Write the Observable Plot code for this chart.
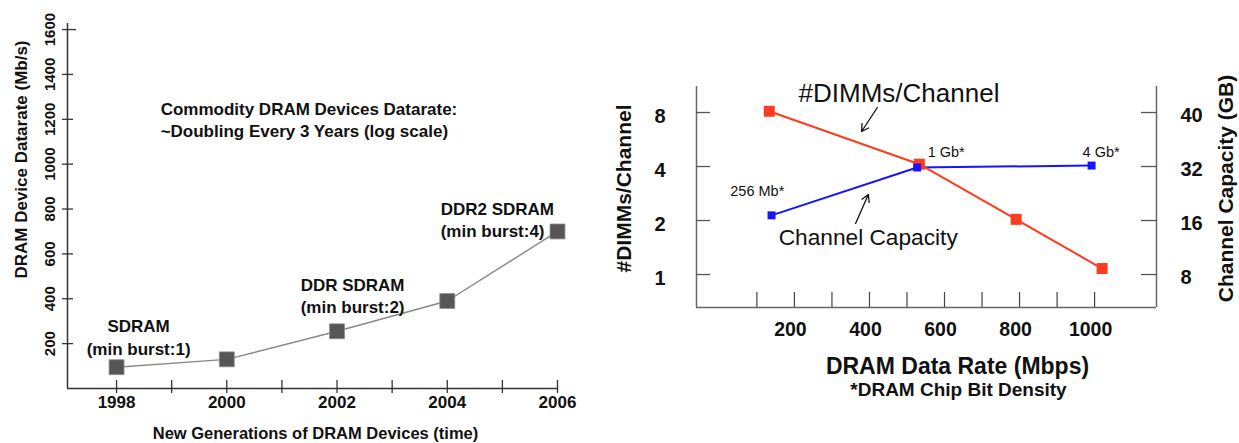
<!DOCTYPE html>
<html>
<head>
<meta charset="utf-8">
<script src="https://cdn.jsdelivr.net/npm/d3@7"></script>
<script src="https://cdn.jsdelivr.net/npm/@observablehq/plot@0.6"></script>
<style>
html, body { margin: 0; padding: 0; background: #fff; }
#wrap { position: relative; width: 1239px; height: 443px; overflow: hidden; background: #fff; }
#left { position: absolute; left: 0; top: 0; }
#right { position: absolute; left: 600px; top: 0; }
</style>
</head>
<body>
<div id="wrap"><div id="left"></div><div id="right"></div></div>
<script>
// ---------- Left chart data ----------
const years = [1998, 2000, 2002, 2004, 2006];
const datarate = [95, 130, 255, 390, 700];
const yearTicks = [1998, 2000, 2002, 2004, 2006];
const yearMinorTicks = [1999, 2001, 2003, 2005];
const datarateTicks = [200, 400, 600, 800, 1000, 1200, 1400, 1600];
const leftNotesStart = [
  {x: 1998.8, y: 1201, text: "Commodity DRAM Devices Datarate:\n~Doubling Every 3 Years (log scale)"},
  {x: 2001.34, y: 419, text: "DDR SDRAM\n(min burst:2)"},
  {x: 2003.88, y: 755, text: "DDR2 SDRAM\n(min burst:4)"}
];
const leftNotesMiddle = [
  {x: 1998.4, y: 232, text: "SDRAM\n(min burst:1)"}
];
const leftTitleX = "New Generations of DRAM Devices (time)";
const leftTitleY = "DRAM Device Datarate (Mb/s)";

// ---------- Right chart data ----------
const dimmRate = [133, 533, 791, 1020];
const dimmCount = [8.13, 4.12, 2.03, 1.08];
const capRate = [139, 527, 992];
const capGB = [17.1, 31.6, 32.4];
const rateTicks = [100, 200, 300, 400, 500, 600, 700, 800, 900, 1000];
const rateLabels = [200, 400, 600, 800, 1000];
const dimmTicks = [1, 2, 4, 8];
const capacityTicksGB = [8, 16, 32, 64];
const capacityTickLabels = ["8", "16", "32", "40"];
const chipNotes = [
  {x: 29, y: 2.91, text: "256 Mb*"},
  {x: 555, y: 4.79, text: "1 Gb*"},
  {x: 968, y: 4.79, text: "4 Gb*"}
];
const seriesNotes = [
  {x: 211, y: 10.2, text: "#DIMMs/Channel", size: 26},
  {x: 158, y: 1.61, text: "Channel Capacity", size: 22.7}
];
const arrows = [
  {x1: 421, y1: 8.53, x2: 379, y2: 6.27},
  {x1: 363, y1: 1.925, x2: 397, y2: 2.79}
];
const rightTitleX = "DRAM Data Rate (Mbps)";
const rightSubtitle = "*DRAM Chip Bit Density";
const rightTitleYL = "#DIMMs/Channel";
const rightTitleYR = "Channel Capacity (GB)";

const FONT = "'Liberation Sans', Arial, Helvetica, sans-serif";

// ---------- Left chart ----------
const leftData = years.map((year, i) => ({year, rate: datarate[i]}));
const xMinL = 1997.11, xMaxL = 2006.0;
const L = Plot.plot({
  width: 600, height: 443,
  marginLeft: 67, marginRight: 43, marginTop: 23, marginBottom: 55,
  style: {fontFamily: FONT, fontSize: "17px", fontWeight: "bold", color: "#111", background: "white", overflow: "visible"},
  x: {domain: [xMinL, xMaxL], axis: null, label: null},
  y: {domain: [0, 1627], axis: null, label: null},
  marks: [
    Plot.ruleX([xMinL], {stroke: "#333", strokeWidth: 1.5}),
    Plot.ruleY([0], {stroke: "#333", strokeWidth: 1.5}),
    Plot.axisY(datarateTicks.filter(d => d !== 1600), {anchor: "left", tickSize: 11, dx: 6, tickFormat: () => "", label: null, stroke: "#333", strokeWidth: 1.3}),
    Plot.axisY([1600], {anchor: "left", tickSize: 14, dx: 9, tickFormat: () => "", label: null, stroke: "#333", strokeWidth: 1.3}),
    Plot.axisY(datarateTicks, {anchor: "left", tickSize: 0, tickPadding: 17, rotate: -90, textAnchor: "middle", lineAnchor: "middle", fontSize: 15, fontWeight: "bold", tickFormat: d => String(d), label: null, fill: "#111"}),
    Plot.axisX([...yearTicks, ...yearMinorTicks], {anchor: "bottom", tickSize: 13, dy: -8, tickFormat: () => "", label: null, stroke: "#333", strokeWidth: 1.3}),
    Plot.axisX(yearTicks, {anchor: "bottom", tickSize: 0, tickPadding: 7, fontSize: 17, fontWeight: "bold", tickFormat: d => String(d), label: null, fill: "#111"}),
    Plot.text([leftTitleX], {frameAnchor: "bottom", textAnchor: "middle", dx: 3, dy: 45, lineAnchor: "middle", fontSize: 16.5, fontWeight: "bold", fill: "#111"}),
    Plot.text([leftTitleY], {frameAnchor: "left", textAnchor: "middle", rotate: -90, dx: -46, dy: -46.5, lineAnchor: "middle", fontSize: 17, fontWeight: "bold", fill: "#111"}),
    Plot.line(leftData, {x: "year", y: "rate", stroke: "#888", strokeWidth: 1.4}),
    Plot.dot(leftData, {x: "year", y: "rate", symbol: "square", r: 8.4, fill: "#565656", stroke: "#8a8a8a", strokeWidth: 0.8}),
    Plot.text(leftNotesStart, {x: "x", y: "y", text: "text", textAnchor: "start", lineAnchor: "middle", lineHeight: 1.3, fontSize: 17, fontWeight: "bold", fill: "#111"}),
    Plot.text(leftNotesMiddle, {x: "x", y: "y", text: "text", textAnchor: "middle", lineAnchor: "middle", lineHeight: 1.3, fontSize: 17, fontWeight: "bold", fill: "#111"})
  ]
});
document.getElementById("left").appendChild(L);

// ---------- Right chart ----------
const dimmData = dimmRate.map((rate, i) => ({rate, v: dimmCount[i]}));
const capData = capRate.map((rate, i) => ({rate, v: capGB[i] / 8}));
const capLabel = new Map(capacityTicksGB.map((g, i) => [g / 8, capacityTickLabels[i]]));
const xMinR = -61, xMaxR = 1165;
const yMinR = 0.655, yMaxR = 11.17;
const RED = "#ff3b1f", BLUE = "#1414ff";
const R = Plot.plot({
  width: 639, height: 443,
  marginLeft: 96, marginRight: 83, marginTop: 86, marginBottom: 136,
  style: {fontFamily: FONT, fontSize: "19px", color: "#111", background: "white", overflow: "visible"},
  x: {domain: [xMinR, xMaxR], axis: null, label: null},
  y: {type: "log", base: 2, domain: [yMinR, yMaxR], axis: null, label: null},
  marks: [
    Plot.ruleX([xMinR], {stroke: "#666", strokeWidth: 1.5}),
    Plot.ruleX([xMaxR], {stroke: "#666", strokeWidth: 1.5}),
    Plot.ruleY([yMinR], {stroke: "#666", strokeWidth: 1.5}),
    Plot.axisY(dimmTicks, {anchor: "left", tickSize: 14, dx: 14, tickFormat: () => "", label: null, stroke: "#555", strokeWidth: 1.3}),
    Plot.axisY(dimmTicks, {anchor: "left", tickSize: 0, tickPadding: 31, dy: 4, fontSize: 20, fontWeight: "bold", tickFormat: d => String(d), label: null, fill: "#111"}),
    Plot.axisY(dimmTicks, {anchor: "right", tickSize: 16, dx: -16, tickFormat: () => "", label: null, stroke: "#555", strokeWidth: 1.3}),
    Plot.axisY(capacityTicksGB.map(g => g / 8), {anchor: "right", tickSize: 0, tickPadding: 24, dy: 3, fontSize: 20, fontWeight: "bold", tickFormat: d => capLabel.get(d), label: null, fill: "#111"}),
    Plot.axisX(rateTicks, {anchor: "bottom", tickSize: 15, dy: -15, tickFormat: () => "", label: null, stroke: "#444", strokeWidth: 1.2}),
    Plot.axisX(rateLabels, {anchor: "bottom", tickSize: 0, tickPadding: 15, dx: -4, fontSize: 19.5, fontWeight: "bold", tickFormat: d => String(d), label: null, fill: "#111"}),
    Plot.text([rightTitleX], {frameAnchor: "bottom", textAnchor: "middle", dx: 31, dy: 59, lineAnchor: "middle", fontSize: 23, fontWeight: "bold", fill: "#111"}),
    Plot.text([rightSubtitle], {frameAnchor: "bottom", textAnchor: "middle", dx: 32, dy: 82, lineAnchor: "middle", fontSize: 19, fontWeight: "bold", fill: "#111"}),
    Plot.text([rightTitleYL], {frameAnchor: "left", textAnchor: "middle", rotate: -90, dx: -72, dy: -8.5, lineAnchor: "middle", fontSize: 21, fontWeight: "bold", fill: "#111"}),
    Plot.text([rightTitleYR], {frameAnchor: "right", textAnchor: "middle", rotate: -90, dx: 70, dy: -8.5, lineAnchor: "middle", fontSize: 21, fontWeight: "bold", fill: "#111"}),
    Plot.line(capData, {x: "rate", y: "v", stroke: BLUE, strokeWidth: 2}),
    Plot.line(dimmData, {x: "rate", y: "v", stroke: RED, strokeWidth: 2}),
    Plot.dot(dimmData, {x: "rate", y: "v", symbol: "square", r: 6.2, fill: RED}),
    Plot.dot(capData, {x: "rate", y: "v", symbol: "square", r: 4.5, fill: BLUE}),
    Plot.arrow(arrows, {x1: "x1", y1: "y1", x2: "x2", y2: "y2", stroke: "#111", strokeWidth: 1.3, headLength: 9}),
    Plot.text(chipNotes, {x: "x", y: "y", text: "text", textAnchor: "start", lineAnchor: "middle", fontSize: 14.5, fill: "#111"}),
    Plot.text(seriesNotes, {x: "x", y: "y", text: "text", textAnchor: "start", lineAnchor: "middle", fontSize: d => d.size, fill: "#111"})
  ]
});
document.getElementById("right").appendChild(R);
</script>
</body>
</html>
